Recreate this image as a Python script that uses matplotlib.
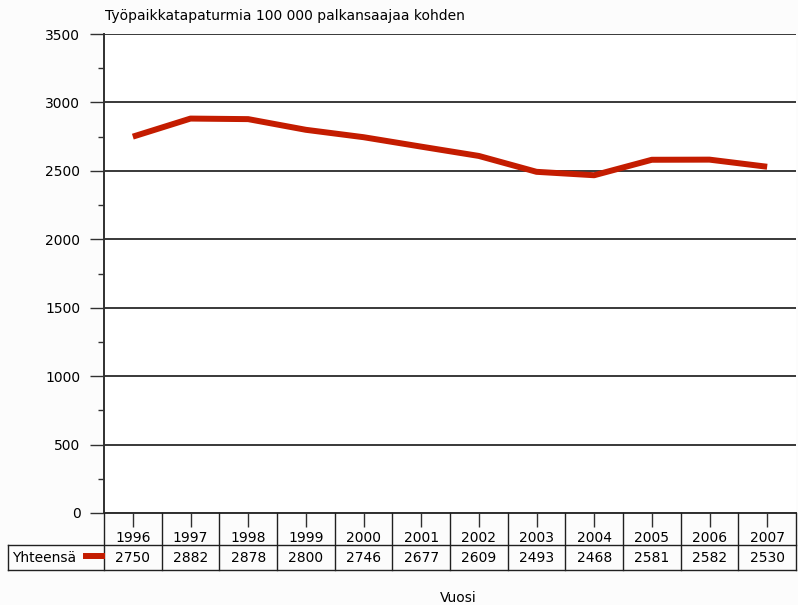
import matplotlib
matplotlib.use("Agg")
import matplotlib.pyplot as plt
from matplotlib.ticker import MultipleLocator

plt.rcParams["font.family"] = ["DejaVu Sans"]

years = ["1996", "1997", "1998", "1999", "2000", "2001",
         "2002", "2003", "2004", "2005", "2006", "2007"]
values = [2750, 2882, 2878, 2800, 2746, 2677, 2609, 2493, 2468, 2581, 2582, 2530]
series_name = "Yhteensä"
title = "Työpaikkatapaturmia 100 000 palkansaajaa kohden"
xlabel = "Vuosi"

W, H = 798, 605
fig = plt.figure(figsize=(W / 100, H / 100), dpi=100, facecolor="#fcfcfc")
fs = 10

# axes placement in pixel units
x0, x1 = 104, 796
y_top, y_bot = 34, 513
ax = fig.add_axes([x0 / W, 1 - y_bot / H, (x1 - x0) / W, (y_bot - y_top) / H])
ax.set_facecolor("white")

n = len(years)
xs = list(range(n))
red = "#c41c00"
ax.plot(xs, values, color=red, lw=4.3, solid_capstyle="butt", zorder=3)

ax.set_xlim(-0.5, n - 0.5)
ax.set_ylim(0, 3500)
ax.yaxis.set_major_locator(MultipleLocator(500))
ax.yaxis.set_minor_locator(MultipleLocator(250))
ax.grid(axis="y", which="major", color="#383838", lw=1.4)
ax.set_axisbelow(True)
for s in ["top", "right"]:
    ax.spines[s].set_visible(False)
for s in ["left", "bottom"]:
    ax.spines[s].set_color("#303030")
    ax.spines[s].set_linewidth(1.4)
ax.tick_params(axis="y", which="major", length=10, width=1, color="#303030",
               labelsize=fs, pad=7)
ax.tick_params(axis="y", which="minor", length=4, width=1, color="#303030")
ax.set_xticks(xs)
ax.set_xticklabels([])
ax.tick_params(axis="x", length=10, width=1, color="#303030", direction="out")


def fx(px):
    return px / W


def fy(py):
    return 1 - py / H


lc = "#202020"
# table rows
row_sep, row_bot = 545, 570
cells_left = 8
fig.add_artist(plt.Line2D([fx(cells_left), fx(x1)], [fy(row_sep)] * 2, color=lc, lw=1))
fig.add_artist(plt.Line2D([fx(cells_left), fx(x1)], [fy(row_bot)] * 2, color=lc, lw=1))
fig.add_artist(plt.Line2D([fx(cells_left)] * 2, [fy(row_sep), fy(row_bot)], color=lc, lw=1))
col_w = (x1 - x0) / n
for i in range(n + 1):
    cx = x0 + i * col_w
    fig.add_artist(plt.Line2D([fx(cx)] * 2, [fy(y_bot), fy(row_bot)], color=lc, lw=1))
for i in range(n):
    cx = x0 + (i + 0.5) * col_w
    fig.text(fx(cx), fy(538), years[i], ha="center", va="center", fontsize=fs)
    fig.text(fx(cx), fy(558.5), str(values[i]), ha="center", va="center", fontsize=fs)

fig.text(fx(12), fy(558.5), series_name, ha="left", va="center", fontsize=fs)
fig.add_artist(plt.Line2D([fx(86), fx(102)], [fy(556)] * 2, color=red, lw=4.3))

fig.text(fx(105), fy(16), title, ha="left", va="center", fontsize=fs)
fig.text(fx(458), fy(598), xlabel, ha="center", va="center", fontsize=fs)

fig.savefig("out.png", dpi=100, facecolor=fig.get_facecolor())
